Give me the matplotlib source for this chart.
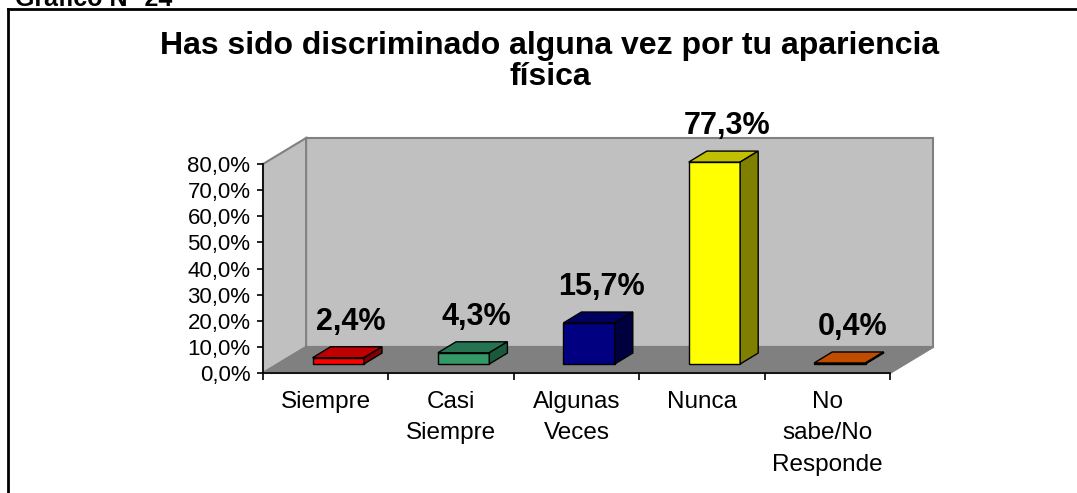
import matplotlib
matplotlib.use("Agg")
import matplotlib.pyplot as plt
from matplotlib.patches import Polygon
from matplotlib.lines import Line2D
from matplotlib.ticker import FuncFormatter

# ---- data ----
categories = ["Siempre", "Casi\nSiempre", "Algunas\nVeces", "Nunca", "No\nsabe/No\nResponde"]
values = [2.4, 4.3, 15.7, 77.3, 0.4]
value_labels = ["2,4%", "4,3%", "15,7%", "77,3%", "0,4%"]
front_colors = ["#FF0000", "#339966", "#000080", "#FFFF00", "#FF6600"]
top_colors = ["#C00000", "#267352", "#000060", "#C0C000", "#C04C00"]
side_colors = ["#800000", "#1A5A3C", "#000040", "#808000", "#993300"]
title = "Has sido discriminado alguna vez por tu apariencia\nfísica"
header = "Gráfico N° 24"
y_ticks = [0, 10, 20, 30, 40, 50, 60, 70, 80]

plt.rcParams['font.family'] = ['Liberation Sans', 'DejaVu Sans']

W, H = 1077, 493
fig = plt.figure(figsize=(W / 100, H / 100), dpi=100)
fig.patch.set_facecolor("white")

ax = fig.add_axes([263 / W, 1 - 373 / H, (890 - 263) / W, (373 - 164) / H])
ax.set_xlim(0, 5)
ax.set_ylim(0, 80)
ax.set_facecolor("none")

# 3D geometry (data units)
DX, DY = 0.3435, 9.95          # full floor depth
FX, FY = 0.10, 3.44            # bar front plane offset
BDX, BDY = 0.144, 4.2          # bar depth
BW = 0.41                      # bar width

wall_kw = dict(edgecolor="#808080", linewidth=1.5, clip_on=False, joinstyle="miter")
ax.add_patch(Polygon([(DX, DY), (5 + DX, DY), (5 + DX, 80 + DY), (DX, 80 + DY)],
                     facecolor="#C0C0C0", zorder=0, **wall_kw))
ax.add_patch(Polygon([(0, 0), (DX, DY), (DX, 80 + DY), (0, 80)],
                     facecolor="#C0C0C0", zorder=0, **wall_kw))
ax.add_patch(Polygon([(0, 0), (5, 0), (5 + DX, DY), (DX, DY)],
                     facecolor="#808080", zorder=0.5, **wall_kw))

centers = [i + 0.5 for i in range(len(categories))]
xs = [c + FX for c in centers]
ax.bar(xs, values, width=BW, bottom=FY, color=front_colors, edgecolor="black",
       linewidth=1, zorder=3, clip_on=False)
for x, v, tc, sc, lab in zip(xs, values, top_colors, side_colors, value_labels):
    x0, x1 = x - BW / 2, x + BW / 2
    y0, y1 = FY, FY + v
    ax.add_patch(Polygon([(x0, y1), (x1, y1), (x1 + BDX, y1 + BDY), (x0 + BDX, y1 + BDY)],
                         facecolor=tc, edgecolor="black", linewidth=1, zorder=3, clip_on=False))
    ax.add_patch(Polygon([(x1, y0), (x1 + BDX, y0 + BDY), (x1 + BDX, y1 + BDY), (x1, y1)],
                         facecolor=sc, edgecolor="black", linewidth=1, zorder=3, clip_on=False))
    ax.text(x + BDX * 0.7, y1 + BDY + 6.5, lab, ha="center", va="baseline",
            fontsize=22, fontweight="bold", color="black", clip_on=False, zorder=5)

# axes styling
for s in ["top", "right"]:
    ax.spines[s].set_visible(False)
for s in ["left", "bottom"]:
    ax.spines[s].set_color("black")
    ax.spines[s].set_linewidth(1.2)
    ax.spines[s].set_zorder(4)

ax.set_yticks(y_ticks)
ax.yaxis.set_major_formatter(FuncFormatter(lambda v, p: f"{v:.1f}%".replace(".", ",")))
ax.tick_params(axis="y", direction="out", length=4, width=1.2, pad=5, labelsize=16, colors="black")

ax.set_xticks(range(len(categories) + 1))
ax.set_xticklabels([])
ax.tick_params(axis="x", which="major", direction="out", length=5, width=1.2)
ax.set_xticks(centers, minor=True)
ax.set_xticklabels(categories, minor=True, fontsize=17.5, linespacing=1.55)
ax.tick_params(axis="x", which="minor", length=0, pad=13)

# title and header
fig.text(550 / W, 1 - 85 / H, title, ha="center", va="baseline", fontsize=23,
         fontweight="bold", linespacing=1.05)
fig.text(15 / W, 1 - 6 / H, header, ha="left", va="baseline", fontsize=18, fontweight="bold")

# frame lines (left and top)
fig.add_artist(Line2D([8 / W, 8 / W], [0, 1 - 9 / H], transform=fig.transFigure,
                      color="black", linewidth=2))
fig.add_artist(Line2D([8 / W, 1], [1 - 9 / H, 1 - 9 / H], transform=fig.transFigure,
                      color="black", linewidth=2))

fig.savefig("out.png", dpi=100, facecolor="white")
